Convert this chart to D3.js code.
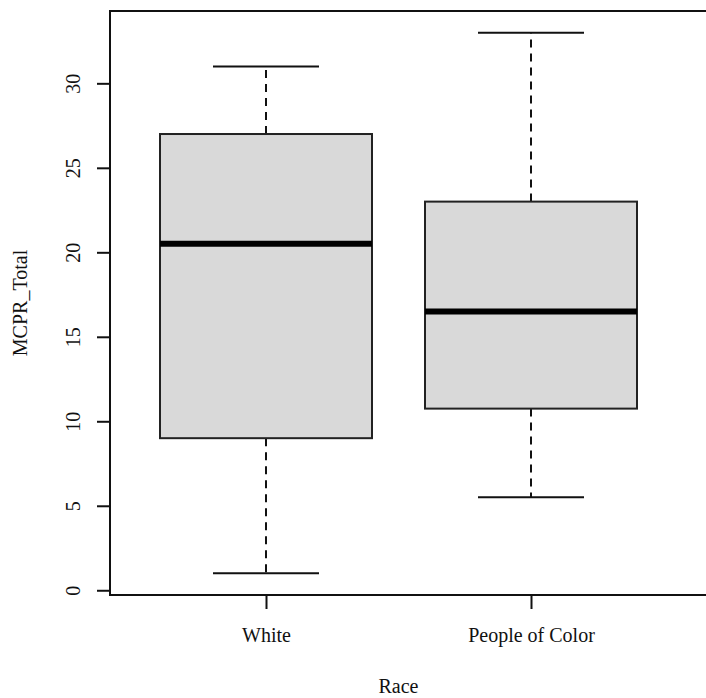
<!DOCTYPE html>
<html>
<head>
<meta charset="utf-8">
<script src="https://cdn.jsdelivr.net/npm/d3@7"></script>
<style>
  html, body { margin: 0; padding: 0; background: #fff; }
  svg { display: block; }
  text { font-family: "Liberation Serif", "Times New Roman", serif; fill: #111; }
</style>
</head>
<body>
<svg id="chart" width="706" height="698"></svg>
<script>
// ---- Data ----
const categories = ["White", "People of Color"];
const whiskerLow = [1, 5.5];
const q1 = [9, 10.75];
const median = [20.5, 16.5];
const q3 = [27, 23];
const whiskerHigh = [31, 33];
const yTicks = [0, 5, 10, 15, 20, 25, 30];
const xTitle = "Race";
const yTitle = "MCPR_Total";

const svg = d3.select("#chart");
const plot = { left: 110, top: 11, right: 722, bottom: 595 };
const FS = "20px";

const x = d3.scaleLinear().domain([1, 2]).range([266, 531]);
const y = d3.scaleLinear().domain([-0.28, 34.28]).range([plot.bottom, plot.top]);

const boxHalf = 0.4, capHalf = 0.2;
const data = categories.map((c, i) => ({
  i: i + 1, name: c, lo: whiskerLow[i], q1: q1[i], med: median[i], q3: q3[i], hi: whiskerHigh[i]
}));

const g = svg.append("g");

// whiskers (dashed)
g.selectAll(".wh-up").data(data).join("line")
  .attr("x1", d => x(d.i)).attr("x2", d => x(d.i))
  .attr("y1", d => y(d.q3)).attr("y2", d => y(d.hi))
  .attr("stroke", "#111").attr("stroke-width", 2).attr("stroke-dasharray", "8,6");
g.selectAll(".wh-lo").data(data).join("line")
  .attr("x1", d => x(d.i)).attr("x2", d => x(d.i))
  .attr("y1", d => y(d.q1)).attr("y2", d => y(d.lo))
  .attr("stroke", "#111").attr("stroke-width", 2).attr("stroke-dasharray", "8,6");

// caps
["hi", "lo"].forEach(k => {
  g.selectAll(".cap-" + k).data(data).join("line")
    .attr("x1", d => x(d.i - capHalf)).attr("x2", d => x(d.i + capHalf))
    .attr("y1", d => y(d[k])).attr("y2", d => y(d[k]))
    .attr("stroke", "#111").attr("stroke-width", 2);
});

// boxes
g.selectAll(".box").data(data).join("rect")
  .attr("x", d => x(d.i - boxHalf))
  .attr("width", d => x(d.i + boxHalf) - x(d.i - boxHalf))
  .attr("y", d => y(d.q3))
  .attr("height", d => y(d.q1) - y(d.q3))
  .attr("fill", "#d9d9d9").attr("stroke", "#222").attr("stroke-width", 2);

// medians
g.selectAll(".med").data(data).join("line")
  .attr("x1", d => x(d.i - boxHalf)).attr("x2", d => x(d.i + boxHalf))
  .attr("y1", d => y(d.med)).attr("y2", d => y(d.med))
  .attr("stroke", "#000").attr("stroke-width", 6);

// frame
svg.append("rect")
  .attr("x", plot.left).attr("y", plot.top)
  .attr("width", plot.right - plot.left).attr("height", plot.bottom - plot.top)
  .attr("fill", "none").attr("stroke", "#111").attr("stroke-width", 2);

// y axis
const yAxis = svg.append("g").attr("transform", `translate(${plot.left},0)`)
  .call(d3.axisLeft(y).tickValues(yTicks).tickSize(13).tickFormat(d3.format("d")));
yAxis.select(".domain").remove();
yAxis.selectAll(".tick line").attr("stroke", "#111").attr("stroke-width", 2);
yAxis.selectAll(".tick text")
  .attr("transform", "rotate(-90)")
  .attr("x", 0).attr("y", -30).attr("dy", 0)
  .attr("text-anchor", "middle")
  .style("font-size", FS)
  .style("font-family", '"Liberation Serif", serif')
  .attr("fill", "#111");

// x axis
const xAxis = svg.append("g").attr("transform", `translate(0,${plot.bottom})`)
  .call(d3.axisBottom(x).tickValues([1, 2]).tickSize(14).tickFormat(d => categories[d - 1]));
xAxis.select(".domain").remove();
xAxis.selectAll(".tick line").attr("stroke", "#111").attr("stroke-width", 2);
xAxis.selectAll(".tick text")
  .attr("y", 47).attr("dy", 0)
  .style("font-size", FS)
  .style("font-family", '"Liberation Serif", serif')
  .attr("fill", "#111");

// titles
svg.append("text")
  .attr("x", x(1.5)).attr("y", 693)
  .attr("text-anchor", "middle")
  .style("font-size", FS)
  .text(xTitle);

svg.append("text")
  .attr("transform", `translate(27,${(plot.top + plot.bottom) / 2}) rotate(-90)`)
  .attr("text-anchor", "middle")
  .style("font-size", FS)
  .text(yTitle);
</script>
</body>
</html>
